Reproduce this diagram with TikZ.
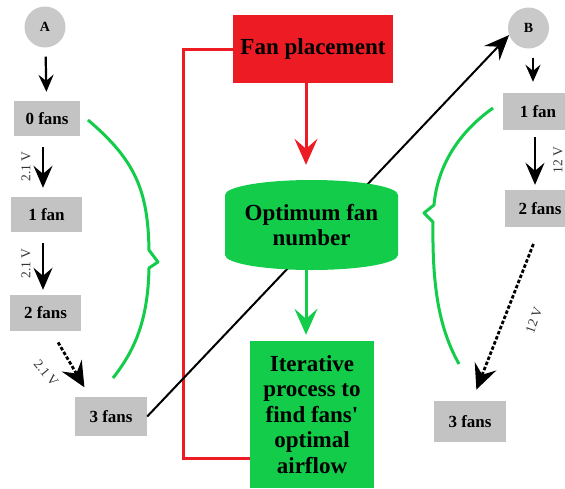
\documentclass[tikz,border=0pt]{standalone}
\usepackage{fontspec}
\setmainfont{Liberation Serif}
\usetikzlibrary{arrows.meta}
\definecolor{fanred}{HTML}{ED1C24}
\definecolor{fangreen}{HTML}{12CC4A}
\definecolor{fangray}{HTML}{C3C3C3}

\begin{document}
\begin{tikzpicture}[x=1pt, y=-1pt,
    fanbox/.style={fill=fangray, inner sep=0pt, font=\bfseries\fontsize{17}{20}\selectfont},
    endpt/.style={circle, fill=fangray!90, minimum size=41pt, inner sep=0pt, font=\bfseries\fontsize{14}{16}\selectfont},
    bigtext/.style={inner sep=0pt, align=center, font=\bfseries\fontsize{23}{25.5}\selectfont},
    volt/.style={font=\fontsize{13.5}{15}\selectfont, text=black!80},
    startarrow/.style={-{Stealth[length=17pt,width=15pt,inset=6pt]}, line width=2.2pt},
    fanarrow/.style={-{Stealth[length=22pt,width=19pt,inset=8pt]}, line width=2.2pt},
    jumparrow/.style={-{Stealth[length=25pt,width=23pt,inset=9pt]}, line width=2.8pt, dash pattern=on 3.5pt off 2pt},
    flowarrow/.style={-{Stealth[length=26pt,width=23pt,inset=10pt]}, line width=3pt},
    brace/.style={fangreen, line width=3pt, line join=round}]
    \useasboundingbox (0,0) rectangle (565,488);

    % Nodes
    \node (A) [endpt] at (45,27) {A};
    \node (f0) [fanbox, minimum width=66pt, minimum height=35pt] at (47,118.5) {0 fans};
    \node (f1) [fanbox, minimum width=71pt, minimum height=35pt] at (46.5,214.5) {1 fan};
    \node (f2) [fanbox, minimum width=71pt, minimum height=36pt] at (45.5,313) {2 fans};
    \node (f3) [fanbox, minimum width=72pt, minimum height=39pt] at (111,416.5) {3 fans};

    \node (B) [endpt] at (528.5,28) {B};
    \node (g1) [fanbox, minimum width=70pt, minimum height=37pt] at (538,111.5) {1 fan};
    \node (g2) [fanbox, minimum width=70pt, minimum height=37pt] at (540,208.5) {2 fans};
    \node (g3) [fanbox, minimum width=72pt, minimum height=41pt] at (470,421.5) {3 fans};

    \node (place) [bigtext, fill=fanred, minimum width=160pt, minimum height=68pt] at (313,49) {Fan placement};
    \node (iter) [bigtext, fill=fangreen, minimum width=124pt, minimum height=147pt] at (312,414.5)
        {Iterative\\process to\\find fans\textquotesingle\\optimal\\airflow};
    \coordinate (ax) at (306,0);
    \coordinate (redcorner) at (183,458);

    % Edges
    \draw [fanred, line width=3pt] (place.west) -| (redcorner) -- (redcorner -| iter.west);
    \draw [-{Stealth[length=25pt,width=21pt,inset=9pt]}, line width=2pt] (f3.east) -- (B.200);

    % cylinder drawn over the long line
    \fill [fangreen] (225,195) -- (225,255) arc[start angle=180, end angle=360, x radius=86.5pt, y radius=15pt]
        -- (398,195) arc[start angle=0, end angle=180, x radius=86.5pt, y radius=15pt] -- cycle;
    \node (opt) [bigtext, minimum width=173pt, minimum height=90pt] at (311.5,225) {Optimum fan\\number};

    \draw [flowarrow, fanred] (place.south -| ax) -- (opt.north -| ax) [shorten >=15pt];
    \draw [flowarrow, fangreen] (opt.south -| ax) -- (iter.north -| ax) [shorten >=6pt];

    \draw [startarrow, shorten <=9pt, shorten >=9pt] (A) -- (f0);
    \draw [fanarrow, shorten <=11pt, shorten >=9pt] ([xshift=-4pt]f0.south) -- ([xshift=-3.5pt]f1.north)
        node [volt, midway, left=8pt, rotate=90, anchor=south] {2.1 V};
    \draw [fanarrow, shorten <=11pt, shorten >=5pt] ([xshift=-3.5pt]f1.south) -- ([xshift=-2.5pt]f2.north)
        node [volt, midway, left=8pt, rotate=90, anchor=south] {2.1 V};
    \draw [jumparrow, shorten <=13pt, shorten >=11pt] ([xshift=6pt]f2.south) -- ([xshift=-21pt]f3.north);
    \node (v3) [volt, rotate=-50] at (46,373) {2.1 V};

    \draw [startarrow, shorten <=9pt, shorten >=11pt] ([xshift=4.5pt]B.south) -- ([xshift=-5pt]g1.north);
    \draw [fanarrow, shorten <=7pt, shorten >=5pt] ([xshift=-3pt]g1.south) -- ([xshift=-5pt]g2.north)
        node [volt, midway, right=14pt, rotate=90, anchor=north] {12 V};
    \draw [jumparrow, shorten <=18pt, shorten >=12pt] (g2.south) -- ([xshift=2pt]g3.north);
    \node (v6) [volt, rotate=70] at (534,320) {12 V};

    % braces
    \draw [brace] (88,120) .. controls (135,160) and (148,190) .. (149,250) -- (158,262) -- (149,268)
        .. controls (148,320) and (135,350) .. (113,378);
    \draw [brace] (493,108) .. controls (455,135) and (437,170) .. (434,205) -- (424,213) -- (433,222)
        .. controls (432,290) and (440,330) .. (459,364);
\end{tikzpicture}
\end{document}
